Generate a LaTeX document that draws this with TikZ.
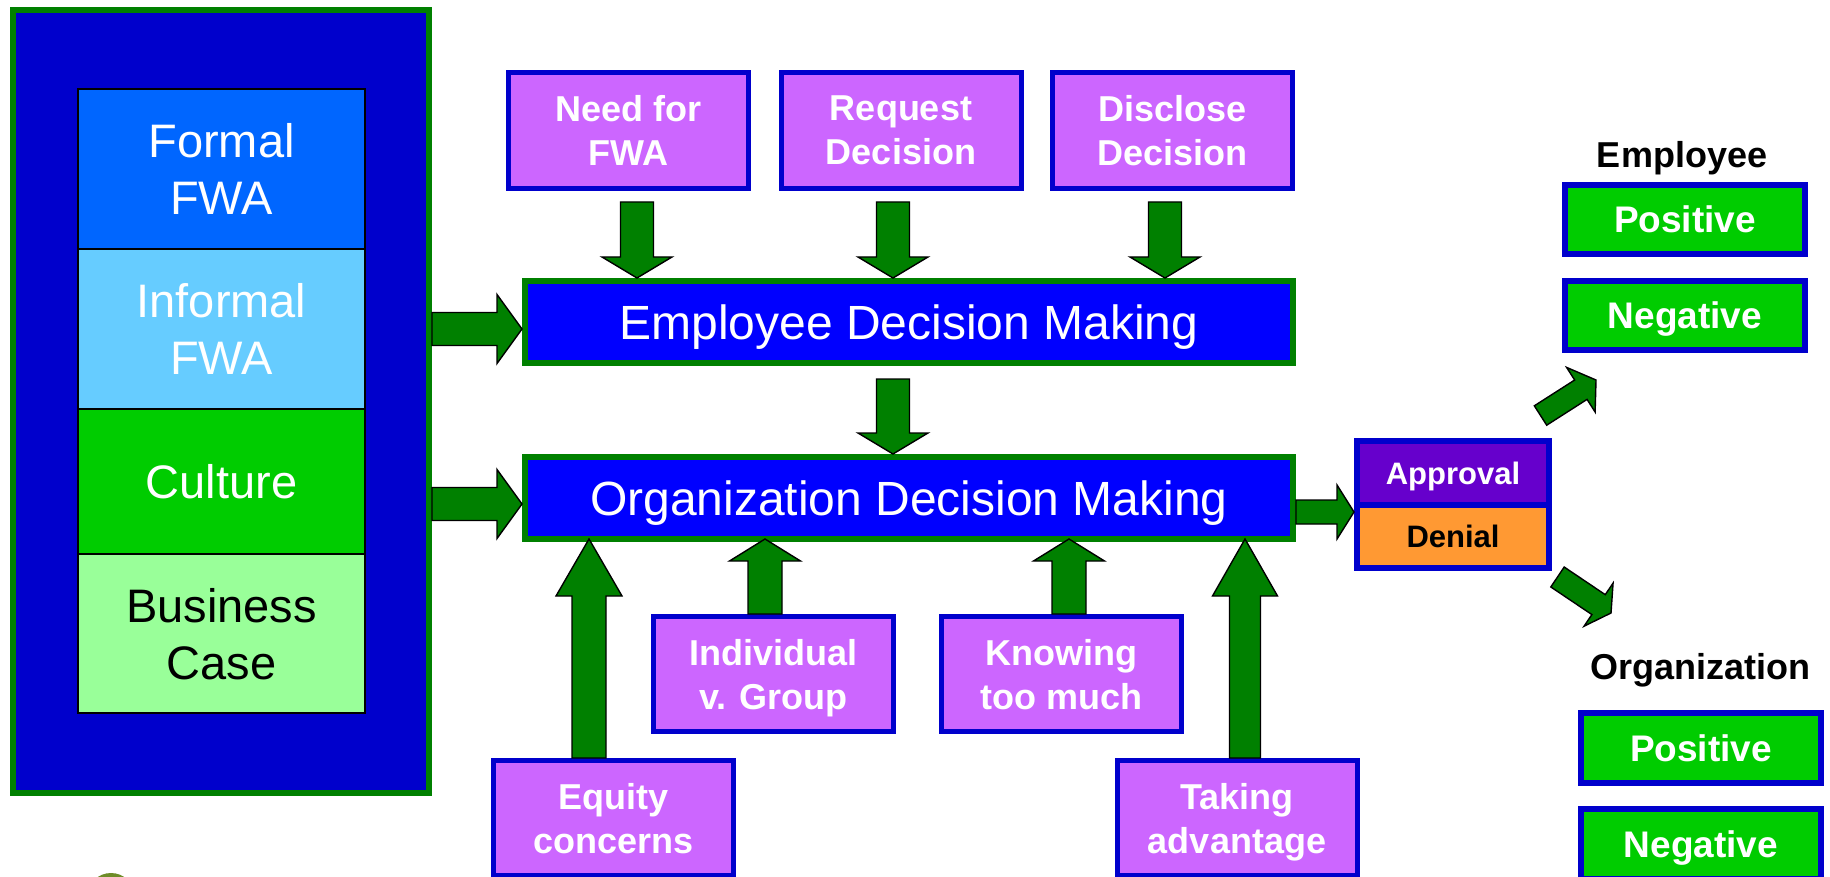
\documentclass[tikz,border=0pt]{standalone}
\usepackage{fontspec}
\setmainfont{Liberation Sans}
\usetikzlibrary{calc}
\definecolor{darkblue}{HTML}{0000CC}
\definecolor{brightblue}{HTML}{0000FF}
\definecolor{agreen}{HTML}{008000}
\definecolor{purp}{HTML}{CC66FF}
\definecolor{formalc}{HTML}{0066FF}
\definecolor{informalc}{HTML}{66CCFF}
\definecolor{culturec}{HTML}{00CC00}
\definecolor{businessc}{HTML}{99FF99}
\definecolor{resgreen}{HTML}{00CC00}
\definecolor{apprc}{HTML}{6600CC}
\definecolor{denc}{HTML}{FF9933}
\definecolor{olivec}{RGB}{110,140,40}
\tikzset{
  pbox/.style={draw=darkblue, line width=2.5pt, fill=purp, text=white,
    font=\bfseries\fontsize{18}{22}\selectfont, align=center,
    minimum width=120pt, minimum height=58pt, inner sep=0pt, text depth=0pt},
  dmbox/.style={draw=agreen, line width=3pt, fill=brightblue, text=white,
    font=\fontsize{24}{28}\selectfont, minimum width=384pt, minimum height=41pt,
    inner sep=0pt, text height=17.2pt, text depth=0pt},
  stackrow/.style={draw=black, line width=1pt, minimum width=143.5pt, inner sep=0pt,
    align=center, font=\fontsize{23.5}{28.5}\selectfont, text depth=0pt},
  resbox/.style={draw=darkblue, line width=3pt, fill=resgreen, text=white,
    font=\bfseries\fontsize{18.5}{22}\selectfont, minimum width=120pt,
    minimum height=34.5pt, inner sep=0pt, text height=13.2pt, text depth=0pt},
  adbox/.style={draw=darkblue, line width=3pt, minimum width=96pt, inner sep=0pt,
    font=\bfseries\fontsize{15.5}{18}\selectfont, text height=11.1pt, text depth=0pt},
  grouplbl/.style={font=\bfseries\fontsize{18}{22}\selectfont, inner sep=0pt},
  blockarrow/.style={draw=black, line width=0.7pt, fill=agreen, line join=miter}
}
% tail, tip, half shaft width, half head width, head length
\newcommand\blkarrow[5]{%
  \coordinate (bkA) at (#1);
  \coordinate (bkB) at (#2);
  \coordinate (bkC) at ($(bkB)!#5!(bkA)$);
  \draw[blockarrow] ($(bkA)!#3!90:(bkB)$) -- ($(bkC)!#3!90:(bkB)$) --
    ($(bkC)!#4!90:(bkB)$) -- (bkB) -- ($(bkC)!#4!-90:(bkB)$) --
    ($(bkC)!#3!-90:(bkB)$) -- ($(bkA)!#3!-90:(bkB)$) -- cycle;
}
\begin{document}
\begin{tikzpicture}[x=0.5pt, y=-0.5pt]
\useasboundingbox (0,0) rectangle (1830,877);
\clip (0,0) rectangle (1830,877);

% left panel
\node[draw=agreen, line width=3pt, fill=darkblue, minimum width=208pt,
  minimum height=391.5pt, inner sep=0pt] (outer) at (221,401.5) {};
\node[stackrow, fill=formalc, text=white, minimum height=80pt] (formal) at (221.5,169) {Formal\\FWA};
\node[stackrow, fill=informalc, text=white, minimum height=80pt] (informal) at (221.5,329) {Informal\\FWA};
\node[stackrow, fill=culturec, text=white, minimum height=72.5pt] (culture) at (221.5,481.5) {Culture};
\node[stackrow, fill=businessc, text=black, minimum height=79.5pt] (business) at (221.5,633.5) {Business\\Case};

\fill[olivec] (111,897) circle (24);

% top factor boxes
\node[pbox] (need) at (628.5,130.5) {Need for\\FWA};
\node[pbox] (request) at (901,130.5) {Request\\Decision};
\node[pbox] (disclose) at (1172.5,130.5) {Disclose\\Decision};

% decision boxes
\node[dmbox] (edm) at (909,322) {Employee Decision Making};
\node[dmbox] (odm) at (909,498) {Organization Decision Making};

% bottom factor boxes
\node[pbox, minimum height=57.5pt] (indiv) at (773.5,674) {Individual\\v. Group};
\node[pbox, minimum height=57.5pt] (know) at (1061.5,674) {Knowing\\too much};
\node[pbox, minimum height=57.5pt] (equity) at (613.5,818) {Equity\\concerns};
\node[pbox, minimum height=57.5pt] (taking) at (1237,818) {Taking\\advantage};

% approval / denial
\node[adbox, fill=apprc, text=white, minimum height=32pt] (appr) at (1453,473) {Approval};
\node[adbox, fill=denc, text=black, minimum height=31.5pt] (deny) at (1453,536.5) {Denial};

% outcomes
\node[grouplbl] (emplbl) at (1682,158) {Employee};
\node[resbox] (emppos) at (1685,219.5) {Positive};
\node[resbox] (empneg) at (1685,315.5) {Negative};
\node[grouplbl] (orglbl) at (1700,670) {Organization};
\node[resbox, minimum height=35pt] (orgpos) at (1701,748) {Positive};
\node[resbox, minimum height=35pt] (orgneg) at (1701,844) {Negative};

% arrow end points
\coordinate (d1s) at ($(need.south)+(8.5,11)$);
\coordinate (d1e) at (d1s |- edm.north);
\coordinate (d2s) at ($(request.south)+(-8,11)$);
\coordinate (d2e) at (d2s |- edm.north);
\coordinate (d3s) at ($(disclose.south)+(-7.5,11)$);
\coordinate (d3e) at (d3s |- edm.north);
\coordinate (l1s) at ($(outer.east |- edm.center)+(0,7)$);
\coordinate (l1e) at ($(edm.west)+(0,7)$);
\coordinate (l2s) at ($(outer.east |- odm.center)+(0,6)$);
\coordinate (l2e) at ($(odm.west)+(0,6)$);
\coordinate (ms) at ($(edm.south)+(-16,13)$);
\coordinate (me) at (ms |- odm.north);
\coordinate (rs) at ($(odm.east)+(0,14)$);
\coordinate (re) at (rs -| appr.west);
\coordinate (u1s) at ($(equity.north)+(-24.5,0)$);
\coordinate (u1e) at ($(u1s |- odm.south)+(0,-3)$);
\coordinate (u2s) at ($(indiv.north)+(-8.5,0)$);
\coordinate (u2e) at ($(u2s |- odm.south)+(0,-3)$);
\coordinate (u3s) at ($(know.north)+(7.5,0)$);
\coordinate (u3e) at ($(u3s |- odm.south)+(0,-3)$);
\coordinate (u4s) at ($(taking.north)+(8,0)$);
\coordinate (u4e) at ($(u4s |- odm.south)+(0,-3)$);
\coordinate (g1s) at ($(appr.north east)+(-11.5,-22.5)$);
\coordinate (g1e) at ($(appr.north east)+(44,-58)$);
\coordinate (g2s) at ($(deny.south east)+(5.5,6)$);
\coordinate (g2e) at ($(deny.south east)+(59,42)$);

% block arrows
\blkarrow{d1s}{d1e}{8.25pt}{17.5pt}{10.5pt}
\blkarrow{d2s}{d2e}{8.25pt}{17.5pt}{10.5pt}
\blkarrow{d3s}{d3e}{8.25pt}{17.5pt}{10.5pt}
\blkarrow{l1s}{l1e}{8.25pt}{17.25pt}{12.5pt}
\blkarrow{l2s}{l2e}{8.25pt}{17.25pt}{12.5pt}
\blkarrow{ms}{me}{8.25pt}{17.5pt}{10.5pt}
\blkarrow{rs}{re}{6pt}{13.5pt}{8.5pt}
\blkarrow{u1s}{u1e}{8.5pt}{16.5pt}{28.5pt}
\blkarrow{u2s}{u2e}{8.5pt}{17.75pt}{11pt}
\blkarrow{u3s}{u3e}{8.5pt}{17.75pt}{11pt}
\blkarrow{u4s}{u4e}{7.75pt}{16.25pt}{28.5pt}
\blkarrow{g1s}{g1e}{5.75pt}{13.25pt}{9pt}
\blkarrow{g2s}{g2e}{6pt}{13pt}{7.5pt}
\end{tikzpicture}
\end{document}
